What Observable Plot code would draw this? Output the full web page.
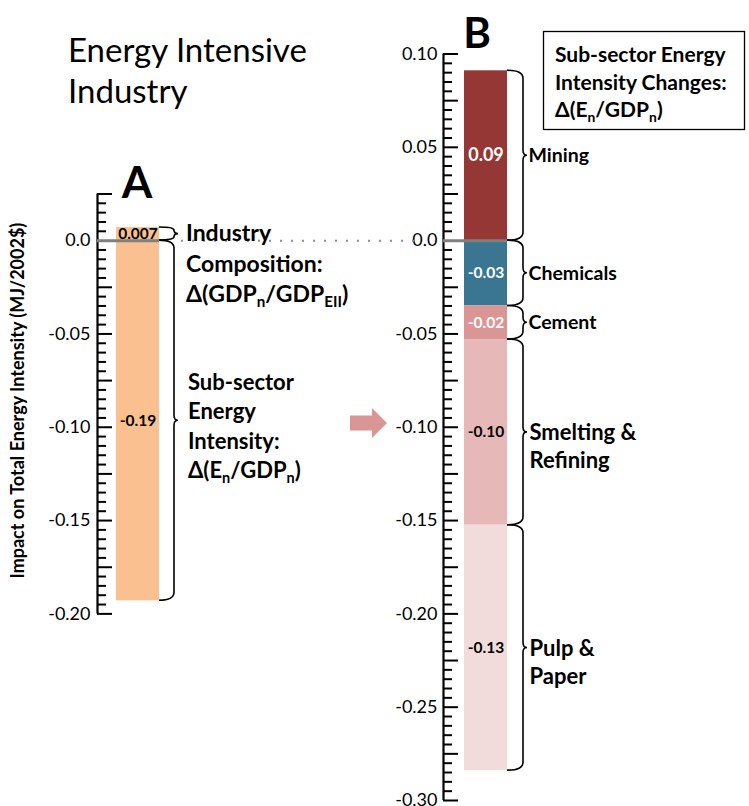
<!DOCTYPE html>
<html>
<head>
<meta charset="utf-8">
<script src="https://cdn.jsdelivr.net/npm/d3@7"></script>
<script src="https://cdn.jsdelivr.net/npm/@observablehq/plot@0.6"></script>
<style>
  html, body { margin: 0; padding: 0; background: #fff; }
  #chart { width: 749px; height: 806px; }
</style>
</head>
<body>
<div id="chart"></div>
<script>
// ---------------- DATA ----------------
const compNames = ["Industry Composition", "Sub-sector Energy Intensity"];
const compValues = [0.007, -0.193];
const compLabels = ["0.007", "-0.19"];

const sectors = ["Mining", "Chemicals", "Cement", "Smelting & Refining", "Pulp & Paper"];
const sectorValues = [0.091, -0.035, -0.018, -0.0995, -0.1315];
const sectorLabels = ["0.09", "-0.03", "-0.02", "-0.10", "-0.13"];
const sectorColors = ["#953735", "#3A7592", "#D99694", "#E6B9B8", "#F2DCDB"];
const sectorLabelColors = ["#ffffff", "#ffffff", "#ffffff", "#000000", "#000000"];
const compColor = "#FAC090";

const tickValuesA = [0, -0.05, -0.10, -0.15, -0.20];
const tickLabelsA = ["0.0", "-0.05", "-0.10", "-0.15", "-0.20"];
const tickValuesB = [0.10, 0.05, 0, -0.05, -0.10, -0.15, -0.20, -0.25, -0.30];
const tickLabelsB = ["0.10", "0.05", "0.0", "-0.05", "-0.10", "-0.15", "-0.20", "-0.25", "-0.30"];

// ---------------- LAYOUT ----------------
const W = 749, H = 806;
const A = {axis: 97, bar: [116, 159], brace: 174, top: 0.025, bottom: -0.20};
const B = {axis: 443, bar: [464, 507], brace: 523, top: 0.10, bottom: -0.30};
const FONT = "Lato, 'Open Sans', 'DejaVu Sans', sans-serif";

function stack(values) {
  let pos = 0, neg = 0;
  return values.map(v => {
    if (v >= 0) { const s = {y1: pos, y2: pos + v}; pos += v; return s; }
    const s = {y1: neg, y2: neg + v}; neg += v; return s;
  });
}
const stA = stack(compValues);
const rowsA = compNames.map((name, i) => ({
  name, value: compValues[i], label: compLabels[i], ...stA[i],
  x1: A.bar[0], x2: A.bar[1], fill: compColor, labelFill: "#000000"
}));
const stB = stack(sectorValues);
const rowsB = sectors.map((name, i) => ({
  name, value: sectorValues[i], label: sectorLabels[i], ...stB[i],
  x1: B.bar[0], x2: B.bar[1], fill: sectorColors[i], labelFill: sectorLabelColors[i]
}));

function tickGrid(top, bottom) {
  const n = Math.round((top - bottom) / 0.005);
  return d3.range(n + 1).map(i => +(top - i * 0.005).toFixed(3));
}
const isLong = v => Math.abs(Math.round(v / 0.005)) % 5 === 0;
const ticksA = tickGrid(A.top, A.bottom).filter(v => v !== 0);
const ticksB = tickGrid(B.top, B.bottom).filter(v => v !== 0);
const mid = d => (d.y1 + d.y2) / 2;
const cx = d => (d.x1 + d.x2) / 2;

const chart = Plot.plot({
  width: W, height: H,
  margin: 0,
  x: {domain: [0, W], range: [0, W], axis: null},
  y: {domain: [-0.30, 0.10], range: [800, 53.5], axis: null},
  color: {type: "identity"},
  style: {fontFamily: FONT, background: "#fff", overflow: "visible"},
  marks: [
    // bars
    Plot.rectY(rowsA, {x1: "x1", x2: "x2", y1: "y1", y2: "y2", fill: "fill"}),
    Plot.rectY(rowsB, {x1: "x1", x2: "x2", y1: "y1", y2: "y2", fill: "fill"}),
    // axes
    Plot.ruleX([A.axis], {y1: A.top, y2: A.bottom, stroke: "#000", strokeWidth: 2.2}),
    Plot.ruleX([B.axis], {y1: B.top, y2: B.bottom, stroke: "#000", strokeWidth: 2.2}),
    Plot.ruleY(ticksA, {x1: A.axis, x2: d => A.axis + (isLong(d) ? 15 : 9), stroke: "#000", strokeWidth: 2}),
    Plot.ruleY(ticksB, {x1: B.axis, x2: d => B.axis + (isLong(d) ? 15 : 9), stroke: "#000", strokeWidth: 2}),
    Plot.text(tickValuesA, {x: A.axis - 7, y: d => d, text: (d, i) => tickLabelsA[i], textAnchor: "end", fontSize: 18, fill: "#000"}),
    Plot.text(tickValuesB, {x: B.axis - 6, y: d => d, text: (d, i) => tickLabelsB[i], textAnchor: "end", fontSize: 18, fill: "#000"}),
    // zero lines
    Plot.ruleY([0], {x1: A.axis, x2: A.bar[1], stroke: "#7f7f7f", strokeWidth: 3}),
    Plot.ruleY([0], {x1: B.axis, x2: B.bar[1], stroke: "#7f7f7f", strokeWidth: 3}),
    Plot.ruleY([0], {x1: 181, x2: 416, stroke: "#8c8c8c", strokeWidth: 2, strokeDasharray: "2,9"}),
    // value labels
    Plot.text(rowsA, {x: cx, y: mid, text: "label", fill: "labelFill", fontWeight: "bold", fontSize: 15.5}),
    Plot.text(rowsB.filter(d => d.value >= 0), {x: cx, y: mid, text: "label", fill: "labelFill", fontWeight: "bold", fontSize: 18}),
    Plot.text(rowsB.filter(d => d.value < 0), {x: cx, y: mid, text: "label", fill: "labelFill", fontWeight: "bold", fontSize: 15.5}),
    // sector names
    Plot.text(rowsB.filter(d => !d.name.includes("&")), {x: B.brace + 5, y: mid, text: "name", textAnchor: "start", fontWeight: "bold", fontSize: 19.5, fill: "#000"}),
    Plot.text(rowsB.filter(d => d.name.includes("&")), {x: B.brace + 6, y: mid, text: d => d.name.replace(" & ", " &\n"), textAnchor: "start", lineAnchor: "top", lineHeight: 1.27, dy: -12, fontWeight: "bold", fontSize: 22, fill: "#000"})
  ]
});
document.getElementById("chart").appendChild(chart);

// ---------------- ANNOTATIONS (through the plot's y scale) ----------------
const yS = chart.scale("y");
const py = v => yS.apply(v);
const svg = d3.select(chart);
const g = svg.append("g").attr("font-family", FONT).attr("text-anchor", "start");

function bracePath(x0, xl, yT, yB, tip) {
  const h = yB - yT;
  const r = Math.min(8, h / 4), rm = Math.min(5, h / 4);
  const ym = (yT + yB) / 2;
  return `M${x0},${yT} Q${xl},${yT} ${xl},${yT + r} L${xl},${ym - rm} Q${xl},${ym} ${xl + tip},${ym} Q${xl},${ym} ${xl},${ym + rm} L${xl},${yB - r} Q${xl},${yB} ${x0},${yB}`;
}
function addBraces(rows, P) {
  rows.forEach(d => {
    const a = py(Math.max(d.y1, d.y2)), b = py(Math.min(d.y1, d.y2));
    g.append("path").attr("d", bracePath(P.bar[1], P.brace, a, b, 4))
      .attr("fill", "none").attr("stroke", "#000").attr("stroke-width", 1.6);
  });
}
addBraces(rowsA, A);
addBraces(rowsB, B);

// arrow between panels
(() => {
  const yc = py(-0.098), x0 = 350, xs = 372, xt = 387;
  const pts = [[x0, yc - 7.5], [xs, yc - 7.5], [xs, yc - 15], [xt, yc], [xs, yc + 15], [xs, yc + 7.5], [x0, yc + 7.5]];
  g.append("polygon").attr("points", pts.map(p => p.join(",")).join(" ")).attr("fill", "#D99694");
})();

// rich text helper (subscripts)
function rich(x, y0, lineH, lines, size, weight) {
  lines.forEach((segs, li) => {
    const t = g.append("text").attr("x", x).attr("y", y0 + li * lineH)
      .attr("font-size", size).attr("font-weight", weight).attr("fill", "#000");
    let shifted = false;
    segs.forEach(s => {
      const isSub = Array.isArray(s);
      const txt = isSub ? s[0] : s;
      const ts = t.append("tspan").text(txt);
      if (isSub && !shifted) { ts.attr("dy", size * 0.22).attr("font-size", size * 0.66); shifted = true; }
      else if (isSub) { ts.attr("font-size", size * 0.66); }
      else if (!isSub && shifted) { ts.attr("dy", -size * 0.22); shifted = false; }
    });
  });
}

// title
rich(68, 62, 41, [["Energy Intensive"], ["Industry"]], 33, "normal");
// panel letters
g.append("text").attr("x", 137).attr("y", 198).attr("text-anchor", "middle").attr("font-size", 44).attr("font-weight", "bold").text("A");
g.append("text").attr("x", 477).attr("y", 48).attr("text-anchor", "middle").attr("font-size", 42).attr("font-weight", "bold").text("B");
// y axis title
g.append("text").attr("transform", `translate(24,${py(-0.086)}) rotate(-90)`).attr("text-anchor", "middle")
  .attr("font-size", 18).attr("font-weight", "bold").text("Impact on Total Energy Intensity (MJ/2002$)");

// panel A annotations
rich(186, 241, 30.5, [
  ["Industry"], ["Composition:"], ["Δ(GDP", ["n"], "/GDP", ["EII"], ")"]
], 23, "bold");
rich(188, 390, 29.4, [
  ["Sub-sector"], ["Energy"], ["Intensity:"], ["Δ(E", ["n"], "/GDP", ["n"], ")"]
], 22, "bold");

// legend box
g.append("rect").attr("x", 543.5).attr("y", 31.5).attr("width", 201).attr("height", 98)
  .attr("fill", "none").attr("stroke", "#000").attr("stroke-width", 1.3);
rich(555, 62, 27.5, [
  ["Sub-sector Energy"], ["Intensity Changes:"], ["Δ(E", ["n"], "/GDP", ["n"], ")"]
], 21, "bold");
</script>
</body>
</html>
